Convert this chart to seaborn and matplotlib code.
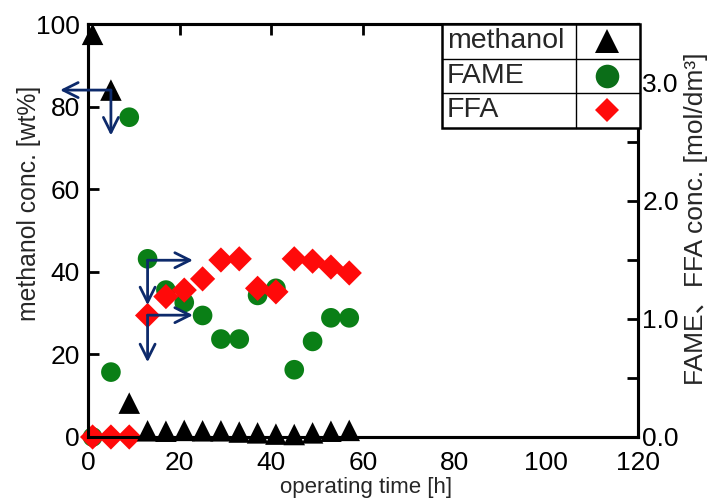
import numpy as np
import pandas as pd
import matplotlib
matplotlib.use("Agg")
import matplotlib.pyplot as plt
import seaborn as sns
from matplotlib.lines import Line2D
from matplotlib.patches import Rectangle

# ---- data ----
time_h = [1, 5, 9, 13, 17, 21, 25, 29, 33, 37, 41, 45, 49, 53, 57]
methanol_wt = [97.5, 84.0, 8.2, 1.5, 1.4, 1.6, 1.5, 1.5, 1.2, 1.0, 0.7, 0.6, 1.0, 1.4, 1.6]
fame_mol = [0.0, 0.55, 2.71, 1.51, 1.245, 1.14, 1.03, 0.83, 0.83, 1.20, 1.26, 0.57, 0.81, 1.01, 1.01]
ffa_mol = [0.0, 0.0, 0.0, 1.03, 1.19, 1.245, 1.34, 1.50, 1.51, 1.26, 1.23, 1.51, 1.49, 1.44, 1.39]
series_names = ["methanol", "FAME", "FFA"]
left_ticks = [0, 20, 40, 60, 80, 100]
x_ticks = [0, 20, 40, 60, 80, 100, 120]
right_ticks = [0.0, 0.5, 1.0, 1.5, 2.0, 2.5, 3.0, 3.5]

df = pd.DataFrame({"time": time_h, "methanol": methanol_wt, "FAME": fame_mol, "FFA": ffa_mol})

sns.set_theme(style="white")
plt.rcParams["font.family"] = ["Liberation Sans", "Noto Sans CJK JP", "DejaVu Sans"]

BLACK = "#000000"
GREEN = "#0a7f16"
RED = "#ff0a0a"
NAVY = "#0d2a6b"

fig = plt.figure(figsize=(7.1, 5.0), dpi=100)
ax = fig.add_axes([88 / 710, 1 - 437 / 500, (638 - 88) / 710, (437 - 24) / 500])
ax2 = ax.twinx()
ax.set_zorder(ax2.get_zorder() + 1)
ax.patch.set_visible(False)

sns.scatterplot(data=df, x="time", y="FAME", ax=ax2, color=GREEN, marker="o", s=200,
                edgecolor="none", clip_on=False, legend=False, zorder=3)
sns.scatterplot(data=df, x="time", y="FFA", ax=ax2, color=RED, marker="D", s=165,
                edgecolor="none", clip_on=False, legend=False, zorder=4)
sns.scatterplot(data=df, x="time", y="methanol", ax=ax, color=BLACK, marker="^", s=240,
                edgecolor="none", clip_on=False, legend=False, zorder=5)

ax.set_xlim(0, 120)
ax.set_ylim(0, 100)
ax2.set_ylim(0, 3.5)
ax.set_xticks(x_ticks)
ax.set_yticks(left_ticks)
ax2.set_yticks(right_ticks)
ax2.set_yticklabels([f"{v:.1f}" if abs(v - round(v)) < 1e-9 else "" for v in right_ticks])

for a in (ax, ax2):
    for sp in a.spines.values():
        sp.set_linewidth(2.2)
        sp.set_color("black")
ax.tick_params(axis="both", direction="in", length=8, width=2, labelsize=19,
               top=True, right=False, colors="black", pad=6)
ax.tick_params(axis="x", pad=10)
ax2.tick_params(axis="y", direction="in", length=8, width=2, labelsize=19, pad=3, colors="black")

ax.set_xlabel("operating time [h]", fontsize=16)
ax.xaxis.set_label_coords(0.505, -(477 - 437) / 413)
ax.set_ylabel("methanol conc. [wt%]", fontsize=17.8)
ax.yaxis.set_label_coords((41 - 88) / 550, (437 - 203.5) / 413)
ax2.set_ylabel("FAME、FFA conc. [mol/dm³]", fontsize=19)
ax2.yaxis.set_label_coords((684 - 88) / 550, (437 - 219) / 413)
ax.grid(False)
ax2.grid(False)

# ---- arrows (reading guides) ----
arrow_kw = dict(arrowstyle="->,head_length=0.9,head_width=0.45", color=NAVY, lw=2.0,
                shrinkA=0, shrinkB=0)
guides = [
    (time_h[1], methanol_wt[1], -6.1, 73.0),
    (time_h[3], 42.8, 22.9, 31.9),
    (time_h[3], 29.5, 22.9, 18.1),
]
for x0, y0, xh, yd in guides:
    ax.annotate("", xy=(xh, y0), xytext=(x0, y0), arrowprops=arrow_kw, annotation_clip=False, zorder=6)
    ax.annotate("", xy=(x0, yd), xytext=(x0, y0), arrowprops=arrow_kw, annotation_clip=False, zorder=6)

# ---- table-style legend ----
def fx(px):
    return px / 710
def fy(py):
    return 1 - py / 500

L, R, T, B = 441.7, 640.0, 24.0, 127.7
colx = 575.7
rows = np.linspace(T, B, 4)
fig.add_artist(Rectangle((fx(L), fy(B)), fx(R) - fx(L), fy(T) - fy(B), transform=fig.transFigure,
                         facecolor="white", edgecolor="black", lw=1.8, zorder=20))
for r in rows[1:-1]:
    fig.add_artist(Line2D([fx(L), fx(R)], [fy(r), fy(r)], transform=fig.transFigure,
                          color="black", lw=1.0, zorder=21))
fig.add_artist(Line2D([fx(colx), fx(colx)], [fy(T), fy(B)], transform=fig.transFigure,
                      color="black", lw=1.0, zorder=21))
leg_styles = [("^", BLACK, 17), ("o", "#0b6e18", 17), ("D", RED, 12.5)]
for i, name in enumerate(series_names):
    cy = (rows[i] + rows[i + 1]) / 2
    fig.text(fx(447), fy(cy), name, fontsize=20.5, ha="left", va="center", zorder=22)
    mk, col, ms = leg_styles[i]
    fig.add_artist(Line2D([fx(607.3)], [fy(cy)], transform=fig.transFigure, marker=mk,
                          color=col, markersize=ms, markeredgewidth=0, linestyle="none", zorder=22))

fig.savefig("out.png", dpi=100)
